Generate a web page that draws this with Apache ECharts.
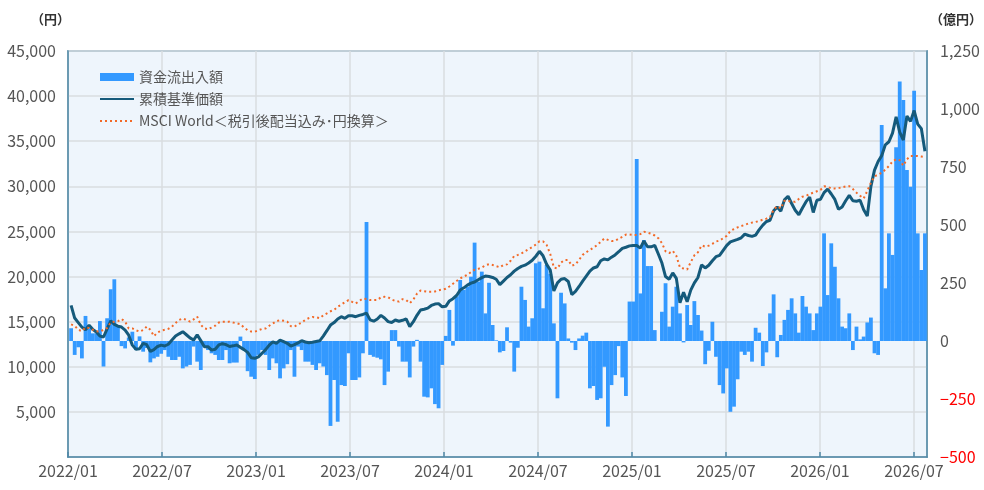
<!DOCTYPE html>
<html>
<head>
<meta charset="utf-8">
<script src="https://cdn.jsdelivr.net/npm/echarts@6/dist/echarts.min.js"></script>
<style>
html,body{margin:0;padding:0;background:#fff;}
#c{width:984px;height:490px;}
</style>
</head>
<body>
<div id="c"></div>
<script>
// weekly observations starting from this date
const startDate = '2022-01-07';
const stepDays = 7;

const xTickLabels = ['2022/01','2022/07','2023/01','2023/07','2024/01','2024/07','2025/01','2025/07','2026/01','2026/07'];
const seriesNames = ['資金流出入額', '累積基準価額', 'MSCI World＜税引後配当込み･円換算＞'];

// 資金流出入額 (億円), weekly
const flows = [
  55, -60, -27, -75, 108, 55, 33, 33, 86, -110, 98, 223, 266, 62, -22, -32, 15, 40, -39, 20, -46, -30, -92, -75, -68, -55,
  -39, -68, -82, -82, -68, -118, -110, -103, -24, -89, -125, -24, -39, -53, -60, -82, -82, -39, -96, -93, -93, 19, -39, -130, -154, -164,
  -60, -39, -60, -125, -75, -96, -161, -118, -100, -39, -154, -24, -39, -89, -89, -103, -125, -96, -110, -147, -366, -168, -348, -190, -194, -53,
  -168, -168, -157, -53, 513, -60, -68, -72, -79, -190, -132, 47, 47, -24, -89, -89, -157, -24, 5, -89, -240, -243, -204, -272, -290, -103,
  22, 134, -20, 191, 263, 220, 234, 277, 424, 256, 299, 119, 251, 69, 3, -49, -43, 59, -7, -132, -29, 234, 177, 62, 98, 335,
  342, 141, 328, 289, 76, -247, 208, 162, 11, -7, -39, 11, 23, 36, -204, -194, -254, -247, -111, -369, -190, -147, -22, -157, -237, 170,
  170, 785, 205, 435, 323, 323, 47, 0, 126, 249, 62, 148, 234, 119, -6, 155, 69, 172, 112, 45, -100, -42, 83, -68, -190, -226,
  -118, -305, -283, -165, -46, -60, -46, -89, 57, 36, -108, -49, 119, 201, -70, 26, 91, 134, 184, 119, 36, 194, 148, 119, 47, 119, 148,
  464, 198, 421, 320, 184, 62, 55, 119, -39, 62, 7, 19, 80, 101, -53, -60, 931, 227, 464, 371, 835, 1118, 1039, 737, 665, 1079, 464, 306, 464
];

// 累積基準価額 (円), weekly
const nav = [
  16800, 15400, 14900, 14400, 14100, 14600, 14150, 13850, 13400, 13300, 14200, 15100, 14700, 14500, 14400, 14070, 13500, 12400, 11950, 12000, 12600, 12450, 11700, 11900, 12250, 12400,
  12300, 12500, 12960, 13400, 13650, 13890, 13550, 13200, 12960, 13550, 12900, 12230, 12230, 11850, 11950, 12420, 12560, 12450, 12250, 12320, 12410, 12150, 11900, 11600, 11000, 10940,
  11100, 11500, 11900, 12400, 12750, 12600, 12950, 12780, 12600, 12300, 12450, 12650, 12890, 12750, 12670, 12720, 12800, 12880, 13400, 14000, 14620, 14900, 15300, 15550, 15370, 15650,
  15650, 15550, 15700, 15800, 15950, 15200, 15050, 15300, 15700, 15400, 15000, 14900, 15180, 15050, 15150, 15300, 14450, 15000, 15700, 16290, 16380, 16500, 16800, 16950, 17000, 16650,
  16700, 17300, 17550, 17900, 18500, 18750, 19050, 19270, 19400, 19650, 19880, 20050, 20000, 19900, 19700, 19100, 19500, 19900, 20200, 20600, 20900, 21130, 21260, 21500, 21800, 22250,
  22800, 22300, 21350, 20720, 18400, 19300, 19700, 19780, 19450, 18000, 18350, 18900, 19500, 20050, 20600, 20950, 21090, 21750, 21950, 21850, 22150, 22400, 22750, 23130, 23250, 23400,
  23450, 23450, 23150, 23950, 23300, 23300, 23450, 22500, 21500, 20000, 19700, 20400, 19800, 17100, 18250, 17200, 18500, 19300, 19900, 21300, 20950, 21250, 21750, 22200, 22350, 22900,
  23450, 23850, 23990, 24120, 24300, 24700, 24550, 24450, 24600, 25200, 25700, 26100, 26240, 27300, 27700, 27250, 28500, 28900, 28100, 27350, 26850, 27600, 28300, 28800, 27100, 28450,
  28550, 29300, 29700, 29150, 28550, 27450, 27700, 28400, 29000, 28400, 28350, 28450, 27400, 26700, 30000, 31800, 32750, 33400, 34600, 34940, 35900, 37700, 36000, 35130, 37800, 37200, 38400, 36900, 36400, 33900
];

// MSCI World (円換算), weekly
const msci = [
  14700, 14550, 14100, 13950, 14350, 14300, 14100, 13950, 13890, 14100, 14300, 14900, 15000, 15050, 15300, 15000, 14250, 14250, 14050, 13900, 14070, 14450, 14100, 13400, 13800, 14000,
  14100, 14200, 14450, 14850, 15200, 15350, 15200, 15000, 15250, 15550, 14650, 14250, 14150, 14350, 14550, 14900, 15000, 15000, 15000, 14900, 14820, 14720, 14350, 14050, 13900, 13890,
  14050, 14200, 14250, 14550, 14800, 15050, 15180, 15100, 15000, 14500, 14450, 14700, 14900, 15200, 15400, 15520, 15480, 15380, 15700, 15920, 16150, 16300, 16650, 16900, 17150, 17390,
  17200, 17020, 17300, 17550, 17500, 17390, 17390, 17400, 17700, 17760, 17700, 17450, 17300, 17220, 17500, 17400, 17050, 17450, 18100, 18450, 18380, 18320, 18320, 18350, 18480, 18560,
  18650, 18900, 19200, 19500, 19800, 20000, 20200, 20500, 20750, 20850, 21000, 21250, 21370, 21280, 21150, 21030, 21270, 21350, 21750, 22280, 22400, 22550, 22800, 23050, 23280, 23550,
  23900, 23900, 23500, 22500, 21000, 20900, 21550, 21830, 21830, 21200, 21350, 21850, 22400, 22700, 22950, 23200, 23480, 23850, 24220, 24070, 23930, 23950, 24200, 24400, 24650, 24650,
  24600, 24600, 24700, 24970, 24870, 24750, 24550, 24250, 23700, 22800, 22600, 22850, 22300, 21000, 20890, 20780, 21600, 22350, 22700, 23450, 23320, 23430, 23630, 23880, 24000, 24250,
  24520, 25050, 25270, 25450, 25600, 25730, 25880, 25980, 26050, 26170, 26300, 26420, 26600, 27400, 27800, 27550, 28400, 28400, 28290, 28290, 28600, 28850, 28950, 29150, 29300, 29450,
  29600, 30000, 29950, 29770, 29770, 29800, 29900, 29980, 30020, 29700, 29300, 28950, 28660, 29500, 30400, 31100, 31300, 31500, 31850, 32250, 32750, 33000, 32900, 32300, 33000, 33360, 33360, 33360, 33300, 33230
];

const DAY = 86400000;
const axisStart = Date.UTC(2022, 0, 1);
const axisEnd = Date.UTC(2026, 6, 28);
const halfYear = 182.625;
const firstDay = (Date.parse(startDate + 'T00:00:00Z') - axisStart) / DAY;
const dayOf = k => firstDay + stepDays * k;

const pairs = arr => arr.map((v, k) => [dayOf(k), v]);

const FONT = '"Noto Sans CJK JP", "Noto Sans", sans-serif';
const BORDER = '#4F88A6';
const GRID = '#D9DCE0';
const TXT = '#555555';

const fmt = v => {
  const a = Math.abs(v).toString().replace(/\B(?=(\d{3})+(?!\d))/g, ',');
  return (v < 0 ? '−' : '') + a;
};

const chart = echarts.init(document.getElementById('c'), null, {renderer: 'canvas'});
chart.setOption({
  animation: false,
  backgroundColor: '#ffffff',
  textStyle: {fontFamily: FONT},
  graphic: [
    {type: 'text', left: 31, top: 13, style: {text: '（円）', font: 'bold 13px ' + FONT, fill: '#333'}},
    {type: 'text', left: 930, top: 13, style: {text: '（億円）', font: 'bold 13px ' + FONT, fill: '#333'}}
  ],
  grid: {left: 68, right: 57, top: 51, bottom: 33, show: true,
         backgroundColor: '#EEF5FC', borderColor: BORDER, borderWidth: 1.5},
  legend: {
    orient: 'vertical', left: 99, top: 70, padding: 0, itemWidth: 34, itemHeight: 8, itemGap: 8,
    textStyle: {color: TXT, fontSize: 14, fontFamily: FONT},
    data: [
      {name: seriesNames[0], icon: 'rect'},
      {name: seriesNames[1], itemStyle: {opacity: 0}},
      {name: seriesNames[2], itemStyle: {opacity: 0}}
    ]
  },
  xAxis: {
    type: 'value', min: 0, max: (axisEnd - axisStart) / DAY, interval: halfYear,
    axisLine: {show: true, lineStyle: {color: BORDER, width: 1.5}},
    axisTick: {show: true, inside: true, length: 5, lineStyle: {color: BORDER, width: 1.5}},
    axisLabel: {
      showMaxLabel: false, color: TXT, fontSize: 16, margin: 6, fontFamily: FONT,
      formatter: v => {
        const i = Math.round(v / halfYear);
        return Math.abs(v - i * halfYear) < 1 && xTickLabels[i] ? xTickLabels[i] : '';
      }
    },
    splitLine: {show: true, lineStyle: {color: GRID, width: 1.5}}
  },
  yAxis: [
    {
      type: 'value', min: 0, max: 45000, interval: 5000, position: 'left',
      axisLine: {show: true, lineStyle: {color: BORDER, width: 1.5}},
      axisTick: {show: false},
      axisLabel: {color: TXT, fontSize: 16, margin: 12, fontFamily: FONT,
        formatter: v => v === 0 ? '' : fmt(v)},
      splitLine: {show: true, lineStyle: {color: GRID, width: 1.5}}
    },
    {
      type: 'value', min: -500, max: 1250, interval: 250, position: 'right',
      axisLine: {show: true, lineStyle: {color: BORDER, width: 1.5}},
      axisTick: {show: false},
      axisLabel: {fontSize: 16, margin: 13, fontFamily: FONT,
        color: v => (Number(v) < 0 ? '#FF0000' : TXT),
        formatter: v => fmt(v)},
      splitLine: {show: false}
    }
  ],
  series: [
    {
      name: seriesNames[0], type: 'bar', yAxisIndex: 1, barWidth: 3.8,
      itemStyle: {color: '#3399FF'},
      data: pairs(flows)
    },
    {
      name: seriesNames[1], type: 'line', yAxisIndex: 0, symbol: 'none',
      lineStyle: {color: '#155A7B', width: 3},
      itemStyle: {color: '#155A7B'},
      data: pairs(nav)
    },
    {
      name: seriesNames[2], type: 'line', yAxisIndex: 0, symbol: 'none',
      lineStyle: {color: '#F26A28', width: 2, type: [2, 3]},
      itemStyle: {color: '#F26A28'},
      data: pairs(msci)
    }
  ]
});
</script>
</body>
</html>
